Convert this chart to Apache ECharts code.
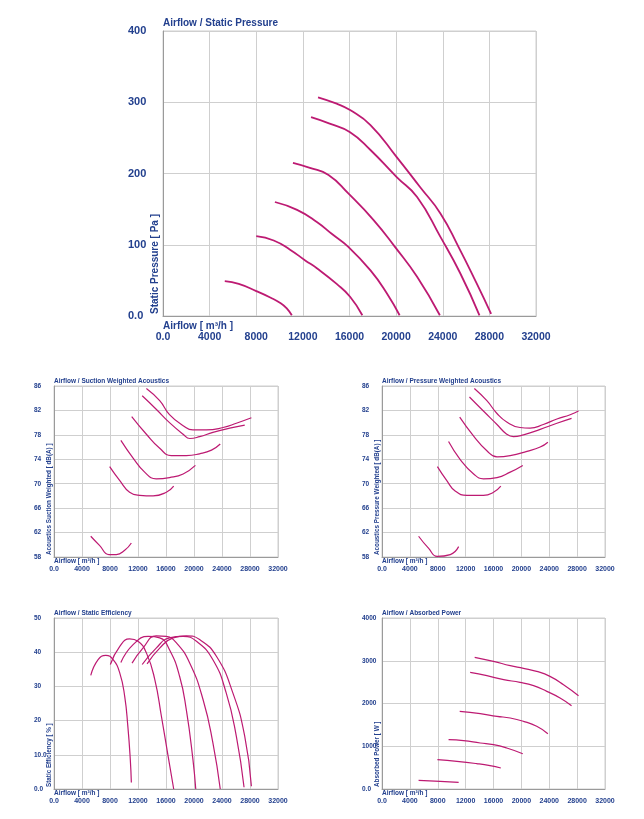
<!DOCTYPE html>
<html>
<head>
<meta charset="utf-8">
<title>Fan curves</title>
<script src="https://cdn.jsdelivr.net/npm/echarts@6/dist/echarts.min.js"></script>
<style>
  html, body { margin: 0; padding: 0; background: #fff; }
  #chart { width: 644px; height: 819px; }
</style>
</head>
<body>
<div id="chart"></div>
<script>
  // airflow ticks shared by all five panels
  const airflowTicks = [0, 4000, 8000, 12000, 16000, 20000, 24000, 28000, 32000];

  // Airflow / Static Pressure, one curve per speed step  [m3/h, Pa]
  const staticPressure = [
    [[5300, 49], [6500, 45], [8000, 35], [9200, 26], [10100, 18], [10600, 11], [11050, 1]],
    [[8000, 112], [9500, 106], [10900, 93], [12200, 78], [13200, 67], [14900, 45], [16050, 27], [17100, 1]],
    [[9600, 160], [11500, 149], [13200, 132], [14500, 115], [15900, 97], [17800, 64], [19200, 32], [20300, 1]],
    [[11150, 215], [12600, 208], [14200, 198], [15900, 172], [18050, 135], [19900, 97], [21800, 55], [23750, 1]],
    [[12700, 279], [14300, 270], [16050, 258], [17800, 233], [20050, 195], [21800, 167], [23800, 111], [25500, 60], [27150, 1]],
    [[13300, 307], [14900, 298], [16050, 289], [17800, 268], [20050, 223], [22050, 181], [23800, 144], [25350, 97], [26900, 46], [28150, 3]]
  ];

  // Airflow / Suction Weighted Acoustics  [m3/h, dB(A)]
  const suctionAcoustics = [
    [[5250, 61.4], [6500, 59.9], [7850, 58.4], [8900, 58.4], [10100, 59.1], [11050, 60.3]],
    [[7950, 72.8], [9400, 70.5], [10800, 68.6], [12250, 68.1], [14150, 68.0], [16050, 68.6], [17100, 69.6]],
    [[9550, 77.1], [11300, 74.2], [12950, 71.9], [14600, 70.8], [16500, 71.0], [18450, 71.6], [20200, 73.0]],
    [[11100, 81.0], [13200, 78.1], [15100, 75.8], [16750, 74.6], [18900, 74.6], [20800, 74.9], [22500, 75.5], [23750, 76.5]],
    [[12600, 84.4], [14600, 82.2], [16500, 80.0], [18450, 78.1], [19400, 77.4], [20800, 77.7], [22700, 78.4], [25100, 79.1], [27250, 79.6]],
    [[13200, 85.6], [15100, 83.6], [16500, 81.3], [18450, 79.5], [19850, 78.8], [21750, 78.8], [24150, 79.2], [26050, 79.9], [28200, 80.8]]
  ];

  // Airflow / Pressure Weighted Acoustics  [m3/h, dB(A)]
  const pressureAcoustics = [
    [[5250, 61.4], [6700, 59.4], [7900, 58.1], [9800, 58.4], [11000, 59.7]],
    [[7950, 72.8], [9300, 70.5], [10500, 68.8], [12200, 68.1], [14550, 68.1], [16000, 68.6], [17050, 69.6]],
    [[9550, 76.9], [11200, 74.0], [13150, 71.6], [14550, 70.8], [16500, 71.0], [18400, 71.9], [20200, 73.0]],
    [[11150, 80.9], [13150, 77.8], [15050, 75.4], [16500, 74.4], [18400, 74.6], [20800, 75.3], [22700, 76.0], [23800, 76.8]],
    [[12550, 84.2], [14550, 81.9], [16500, 79.7], [17900, 78.1], [18850, 77.7], [20300, 78.0], [22700, 78.9], [25100, 79.9], [27200, 80.7]],
    [[13250, 85.6], [15050, 83.6], [16500, 81.5], [17900, 80.1], [19800, 79.2], [21250, 79.1], [23150, 79.7], [25100, 80.6], [27000, 81.3], [28200, 81.9]]
  ];

  // Airflow / Static Efficiency  [m3/h, %]
  const staticEfficiency = [
    [[5250, 33.2], [6300, 37.8], [7400, 39.1], [8450, 37.8], [9400, 33.9], [10100, 27.1], [10550, 18.3], [10900, 8.6], [11050, 1.9]],
    [[8050, 36.4], [9400, 41.7], [10800, 43.9], [12000, 43.2], [13200, 39.8], [14400, 32.0], [15350, 21.2], [16300, 9.6], [17100, 0]],
    [[9550, 37.0], [11300, 42.2], [13450, 44.6], [15100, 44.2], [16500, 40.7], [17950, 32.9], [18900, 23.2], [19850, 8.6], [20250, 0]],
    [[11150, 36.8], [12700, 41.2], [14600, 44.8], [16050, 44.6], [17500, 42.7], [19400, 36.8], [21300, 26.1], [22700, 13.5], [23750, 0]],
    [[12600, 36.4], [14600, 41.2], [16500, 44.2], [18450, 44.6], [20350, 43.2], [22700, 37.8], [24600, 28.1], [26050, 15.4], [27150, 0.5]],
    [[13300, 36.6], [15100, 41.2], [17000, 44.2], [18900, 44.8], [20800, 43.7], [23200, 38.8], [25550, 28.1], [27250, 15.4], [28200, 0.8]]
  ];

  // Airflow / Absorbed Power  [m3/h, W]
  const absorbedPower = [
    [[5250, 203], [8350, 179], [11000, 156]],
    [[7950, 686], [10750, 647], [13600, 593], [15500, 546], [17050, 491]],
    [[9550, 1154], [11700, 1131], [14100, 1076], [16000, 1037], [17900, 959], [20200, 826]],
    [[11150, 1817], [14100, 1762], [16500, 1700], [18400, 1661], [20300, 1583], [22200, 1466], [23800, 1294]],
    [[12650, 2729], [15050, 2651], [17450, 2557], [19800, 2495], [21750, 2417], [23650, 2284], [25550, 2129], [27200, 1949]],
    [[13300, 3080], [16000, 2986], [18400, 2885], [20300, 2823], [22200, 2752], [24100, 2635], [26050, 2440], [28200, 2183]]
  ];

  const textColor = '#23408e';
  const curveColor = '#bd1a72';
  const fontFamily = '"Liberation Sans", Arial, sans-serif';

  // panels: data, y range, grid box, label sizes
  const panels = [
    { title: 'Airflow / Static Pressure', yName: 'Static Pressure [ Pa ]', curves: staticPressure,
      min: 0, max: 400, step: 100, grid: { left: 163, top: 31, width: 373, height: 285 },
      big: true, zeroLabels: [0] },
    { title: 'Airflow / Suction Weighted Acoustics', yName: 'Acoustics Suction Weighted [ dB(A) ]', curves: suctionAcoustics,
      min: 58, max: 86, step: 4, grid: { left: 54, top: 386, width: 224, height: 171 }, zeroLabels: [] },
    { title: 'Airflow / Pressure Weighted Acoustics', yName: 'Acoustics Pressure Weighted [ dB(A) ]', curves: pressureAcoustics,
      min: 58, max: 86, step: 4, grid: { left: 382, top: 386, width: 223, height: 171 }, zeroLabels: [] },
    { title: 'Airflow / Static Efficiency', yName: 'Static Efficiency [ % ]', curves: staticEfficiency,
      min: 0, max: 50, step: 10, grid: { left: 54, top: 618, width: 224, height: 171 }, zeroLabels: [0, 10] },
    { title: 'Airflow / Absorbed Power', yName: 'Absorbed Power [ W ]', curves: absorbedPower,
      min: 0, max: 4000, step: 1000, grid: { left: 382, top: 618, width: 223, height: 171 }, zeroLabels: [0] }
  ];

  const chart = echarts.init(document.getElementById('chart'));

  const grids = [], xAxes = [], yAxes = [], series = [], graphics = [];

  panels.forEach(function (p, i) {
    const g = p.grid;
    const titleSize = p.big ? 10 : 6.5;
    grids.push(Object.assign({ show: true, borderColor: '#cfcfcf', borderWidth: 1, backgroundColor: '#fff' }, g));

    xAxes.push({
      type: 'value', gridIndex: i, min: airflowTicks[0], max: airflowTicks[airflowTicks.length - 1], interval: 4000,
      axisLine: { show: true, lineStyle: { color: '#9a9a9a', width: 1 } },
      axisTick: { show: false },
      splitLine: { show: true, lineStyle: { color: '#cfcfcf', width: 1 } },
      axisLabel: {
        color: textColor, fontWeight: 'bold', fontFamily: fontFamily,
        fontSize: p.big ? 10.5 : 7, margin: p.big ? 16 : 9,
        formatter: function (v) { return v === 0 ? '0.0' : String(v); }
      }
    });

    yAxes.push({
      type: 'value', gridIndex: i, min: p.min, max: p.max, interval: p.step,
      axisLine: { show: true, lineStyle: { color: '#9a9a9a', width: 1 } },
      axisTick: { show: false },
      splitLine: { show: true, lineStyle: { color: '#cfcfcf', width: 1 } },
      axisLabel: {
        color: textColor, fontWeight: 'bold', fontFamily: fontFamily,
        fontSize: p.big ? 11 : 6.5, align: 'left', margin: p.big ? 35 : 20,
        formatter: function (v) { return p.zeroLabels.indexOf(v) >= 0 ? v.toFixed(1) : String(v); }
      }
    });

    p.curves.forEach(function (c) {
      series.push({
        type: 'line', xAxisIndex: i, yAxisIndex: i, data: c,
        showSymbol: false, smooth: 0.5,
        lineStyle: { color: curveColor, width: p.big ? 1.8 : 1.2 },
        silent: true
      });
    });

    // panel title above the plot
    graphics.push({
      type: 'text', x: g.left, y: g.top - (p.big ? 8 : 4.5),
      style: { text: p.title, fill: textColor, font: 'bold ' + titleSize + 'px ' + fontFamily, textVerticalAlign: 'middle' }
    });
    // airflow name under the plot
    graphics.push({
      type: 'text', x: g.left, y: g.top + g.height + (p.big ? 10 : 4.5),
      style: { text: 'Airflow [ m³/h ]', fill: textColor, font: 'bold ' + titleSize + 'px ' + fontFamily, textVerticalAlign: 'middle' }
    });
    // rotated y name, anchored near the bottom of the plot
    graphics.push({
      type: 'text', x: g.left - (p.big ? 8 : 4.5), y: g.top + g.height - 2, rotation: Math.PI / 2,
      style: { text: p.yName, fill: textColor, font: 'bold ' + (p.big ? 10 : 6.3) + 'px ' + fontFamily,
        textAlign: 'left', textVerticalAlign: 'middle' }
    });
  });

  chart.setOption({
    backgroundColor: '#fff',
    animation: false,
    grid: grids,
    xAxis: xAxes,
    yAxis: yAxes,
    series: series,
    graphic: graphics
  });
</script>
</body>
</html>
